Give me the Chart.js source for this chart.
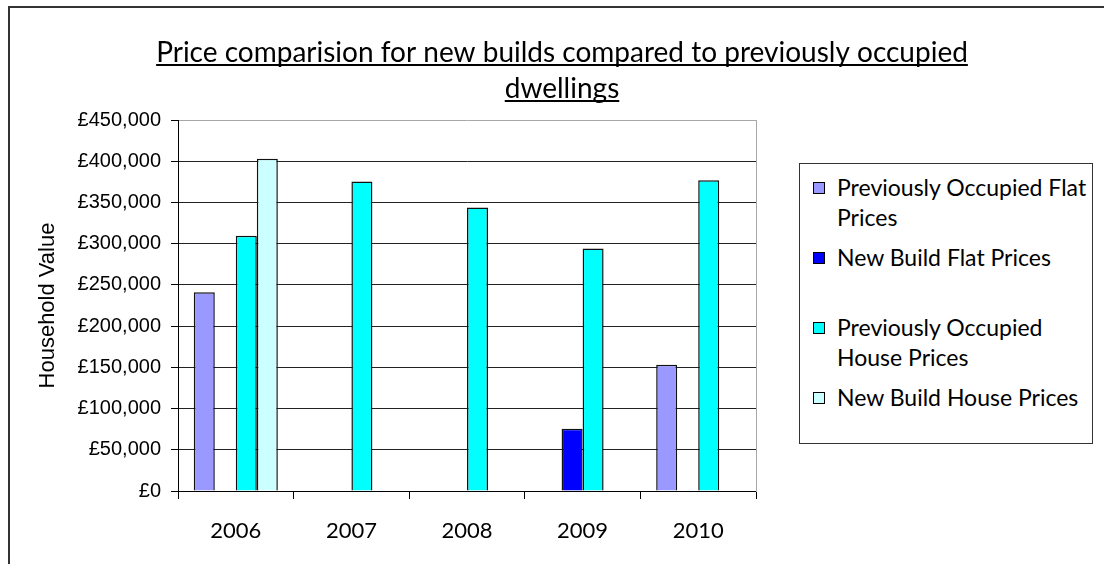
<!DOCTYPE html>
<html>
<head>
<meta charset="utf-8">
<script src="https://cdn.jsdelivr.net/npm/chart.js@4.4.1/dist/chart.umd.min.js"></script>
<style>
  html, body { margin: 0; padding: 0; background: #fff; overflow: hidden; }
  #wrap { position: relative; width: 1104px; height: 564px; }
  #frame { position: absolute; left: 8px; top: 6px; width: 1200px; height: 700px;
           border-left: 2px solid #333; border-top: 2px solid #333; }
  #chart { position: absolute; left: 0; top: 0; }
  #legend { position: absolute; left: 799px; top: 163px; width: 294px; height: 281px;
            box-sizing: border-box; border: 1px solid #333; background: #fff;
            font-family: Lato, sans-serif; font-size: 23px; line-height: 30px; color: #000; }
  #legend .row { position: relative; height: 70px; box-sizing: border-box; padding: 8px 0 0 37px; }
  #legend .sw { position: absolute; left: 13px; top: 18px; width: 10px; height: 10px; border: 1px solid #000; }
</style>
</head>
<body>
<div id="wrap">
  <div id="frame"></div>
  <canvas id="chart" width="1104" height="564"></canvas>
  <div id="legend"></div>
</div>
<script>
// ---- data ----
const years = ['2006', '2007', '2008', '2009', '2010'];
const poFlat  = [241000, null, null, null, 153000];   // Previously Occupied Flat Prices
const nbFlat  = [null, null, null, 75500, null];      // New Build Flat Prices
const poHouse = [309500, 375500, 344000, 294000, 377000]; // Previously Occupied House Prices
const nbHouse = [403000, null, null, null, null];     // New Build House Prices
const seriesNames = ['Previously Occupied Flat Prices', 'New Build Flat Prices',
                     'Previously Occupied House Prices', 'New Build House Prices'];
const seriesColors = ['#9999FF', '#0000FF', '#00FFFF', '#CCFFFF'];
const titleLines = ['Price comparision for new builds compared to previously occupied', 'dwellings'];

const yMax = 450000, yStep = 50000;

// underline the title lines (excel style)
const titleUnderline = {
  id: 'titleUnderline',
  afterDraw(chart) {
    const tb = chart.titleBlock;
    if (!tb) return;
    const opts = chart.options.plugins.title;
    const font = Chart.helpers.toFont(opts.font);
    const { ctx } = chart;
    ctx.save();
    ctx.font = font.string;
    ctx.strokeStyle = '#000';
    ctx.lineWidth = 2;
    const cx = (tb.left + tb.right) / 2;
    titleLines.forEach((line, i) => {
      const w = ctx.measureText(line).width;
      const y = tb.top + opts.padding.top + font.lineHeight * (i + 0.5) + font.size * 0.42;
      ctx.beginPath();
      ctx.moveTo(cx - w / 2, Math.round(y));
      ctx.lineTo(cx + w / 2, Math.round(y));
      ctx.stroke();
    });
    ctx.restore();
  }
};

const datasets = [poFlat, nbFlat, poHouse, nbHouse].map((vals, i) => ({
  label: seriesNames[i],
  data: vals,
  backgroundColor: seriesColors[i],
  borderColor: '#111',
  borderWidth: 1.5,
  categoryPercentage: 0.727,
  barPercentage: 1.0
}));

const chart = new Chart(document.getElementById('chart'), {
  type: 'bar',
  data: { labels: years, datasets },
  plugins: [titleUnderline],
  options: {
    responsive: false,
    animation: false,
    layout: { padding: { left: 20, right: 0, top: 0, bottom: 0 } },
    plugins: {
      legend: { display: false },
      tooltip: { enabled: false },
      title: {
        display: true,
        text: titleLines,
        color: '#000',
        font: { family: 'Lato', size: 28, weight: 'normal', lineHeight: 36 / 28 },
        padding: { top: 35, bottom: 13 }
      }
    },
    scales: {
      x: {
        grid: { offset: true, drawOnChartArea: false, drawTicks: true, tickLength: 8, color: '#000' },
        border: { display: true, color: '#000' },
        ticks: { color: '#000', padding: 19, font: { family: 'Lato', size: 22 } },
        afterFit(s) { s.height = 73; }
      },
      y: {
        min: 0, max: yMax,
        grid: {
          color: c => (c.tick && c.tick.value === yMax) ? '#a8a8a8' : '#222',
          tickColor: '#000', tickLength: 7
        },
        border: { display: true, color: '#000' },
        ticks: {
          stepSize: yStep, color: '#000', padding: 10,
          font: { family: 'Liberation Sans', size: 20 },
          callback: v => '£' + Number(v).toLocaleString('en-GB')
        },
        title: {
          display: true, text: 'Household Value', color: '#000',
          font: { family: 'Liberation Sans', size: 22 },
          padding: { top: 15, bottom: 0 }
        },
        afterFit(s) { s.width = 158; }
      },
      // empty right hand axis: reserves room for the legend and draws the grey plot edge
      side: {
        position: 'right',
        display: true,
        grid: { display: false },
        ticks: { display: false },
        border: { display: true, color: '#a8a8a8' },
        afterFit(s) { s.width = 348; }
      }
    }
  }
});

// html legend so the long names wrap like the original
function buildLegend(ch) {
  const box = document.getElementById('legend');
  box.innerHTML = '';
  ch.data.datasets.forEach(ds => {
    const row = document.createElement('div');
    row.className = 'row';
    const sw = document.createElement('span');
    sw.className = 'sw';
    sw.style.background = ds.backgroundColor;
    row.appendChild(sw);
    row.appendChild(document.createTextNode(ds.label));
    box.appendChild(row);
  });
}
buildLegend(chart);
</script>
</body>
</html>
